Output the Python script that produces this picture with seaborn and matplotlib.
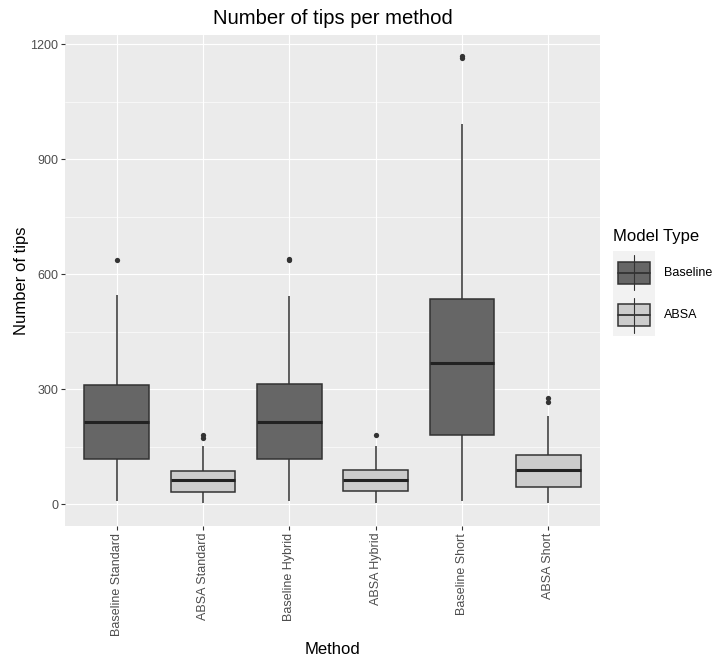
import pandas as pd
import matplotlib
matplotlib.use("Agg")
import matplotlib.pyplot as plt
from matplotlib.patches import Rectangle
from matplotlib.lines import Line2D
import seaborn as sns

# Methods on the x axis and the model family each one belongs to
methods = ["Baseline Standard", "ABSA Standard", "Baseline Hybrid",
           "ABSA Hybrid", "Baseline Short", "ABSA Short"]
model_type = ["Baseline", "ABSA", "Baseline", "ABSA", "Baseline", "ABSA"]

# Box summaries per method: whisker ends, quartiles and median
whisker_low = [9, 4, 9, 4, 9, 4]
q1 = [118, 32, 119, 34, 181, 46]
median = [215, 63, 215, 63, 369, 90]
q3 = [311, 86, 313, 88, 535, 128]
whisker_high = [545, 152, 543, 152, 992, 230]

# Points beyond the whiskers
outlier_method = ["Baseline Standard", "ABSA Standard", "ABSA Standard",
                  "Baseline Hybrid", "Baseline Hybrid", "ABSA Hybrid",
                  "Baseline Short", "Baseline Short", "ABSA Short", "ABSA Short"]
outlier_value = [637, 180, 173, 636, 639, 180, 1163, 1168, 277, 266]

y_ticks = [0, 300, 600, 900, 1200]
type_order = ["Baseline", "ABSA"]
type_colors = {"Baseline": "#666666", "ABSA": "#CCCCCC"}

# Long table: five summary values per method give exact quartiles
rows = []
for i, m in enumerate(methods):
    for v in (whisker_low[i], q1[i], median[i], q3[i], whisker_high[i]):
        rows.append({"Method": m, "Model Type": model_type[i], "Tips": v})
df = pd.DataFrame(rows)

sns.set_theme(style="darkgrid")
plt.rcParams["font.family"] = ["Liberation Sans", "DejaVu Sans"]

W, H = 716, 659
fig = plt.figure(figsize=(W / 100, H / 100), dpi=100)
L, R, T, B = 65, 600, 35, 525.7
ax = fig.add_axes([L / W, 1 - B / H, (R - L) / W, (B - T) / H])

sns.boxplot(data=df, x="Method", y="Tips", hue="Model Type",
            order=methods, hue_order=type_order, palette=type_colors,
            dodge=False, width=0.75, whis=(0, 100), showfliers=False,
            showcaps=False, linecolor="#333333", linewidth=1.1,
            medianprops={"linewidth": 2.2, "color": "#222222"},
            legend=False, ax=ax)
sns.stripplot(x=outlier_method, y=outlier_value, order=methods,
              jitter=False, color="#333333", size=3.8, linewidth=0,
              ax=ax, zorder=4)

ax.set_facecolor("#EBEBEB")
ax.set_axisbelow(True)
for s in ax.spines.values():
    s.set_visible(False)
ax.set_xlim(-0.6, len(methods) - 1 + 0.6)
ax.set_ylim(-56, 1224)
ax.set_yticks(y_ticks)
ax.set_yticklabels([str(t) for t in y_ticks])
ax.set_yticks([150, 450, 750, 1050], minor=True)
ax.grid(True, which="major", color="white", linewidth=0.85)
ax.grid(True, which="minor", axis="y", color="white", linewidth=0.45)
ax.tick_params(axis="both", which="major", length=3, width=0.8,
               color="#333333", labelsize=9, labelcolor="#4D4D4D", pad=2,
               bottom=True, left=True)
ax.tick_params(axis="y", which="minor", length=0)
plt.setp(ax.get_xticklabels(), rotation=90, ha="center", va="top")

ax.set_xlabel("Method", fontsize=12, color="black")
ax.set_ylabel("Number of tips", fontsize=12, color="black")
ax.xaxis.label.set_va("center")
ax.xaxis.set_label_coords(0.5, (B - 650) / (B - T))
ax.yaxis.label.set_va("center")
ax.yaxis.set_label_coords((22 - L) / (R - L), 0.5)

fig.text((L + R) / 2 / W, 1 - 18.5 / H, "Number of tips per method",
         ha="center", va="center", fontsize=14.6, color="black")


def fx(x):
    return x / W


def fy(y):
    return 1 - y / H


# Legend drawn as miniature boxes
fig.text(fx(613), fy(236), "Model Type", ha="left", va="center",
         fontsize=12, color="black")
for k, name in enumerate(type_order):
    cy = 272.5 + 42.5 * k
    fig.add_artist(Rectangle((fx(613), fy(cy + 21.25)), fx(42), 42.5 / H,
                             transform=fig.transFigure, facecolor="#F2F2F2",
                             edgecolor="none"))
    fig.add_artist(Line2D([fx(634), fx(634)], [fy(cy - 17.5), fy(cy + 17.5)],
                          transform=fig.transFigure, color="#333333", lw=0.8))
    fig.add_artist(Rectangle((fx(617.7), fy(cy + 11)), fx(32.6), 22 / H,
                             transform=fig.transFigure,
                             facecolor=type_colors[name],
                             edgecolor="#333333", linewidth=1.1))
    fig.add_artist(Line2D([fx(617.7), fx(650.3)], [fy(cy), fy(cy)],
                          transform=fig.transFigure, color="#333333", lw=1.3))
    fig.text(fx(664), fy(cy), name, ha="left", va="center",
             fontsize=9, color="black")

fig.savefig("out.png", dpi=100)
